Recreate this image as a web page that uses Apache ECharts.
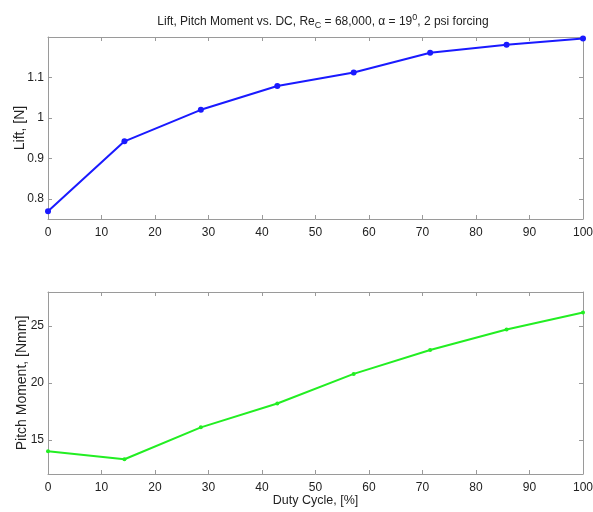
<!DOCTYPE html>
<html>
<head>
<meta charset="utf-8">
<script src="https://cdn.jsdelivr.net/npm/echarts@6/dist/echarts.min.js"></script>
<style>
  html, body { margin: 0; padding: 0; background: #fff; }
  #chart { width: 593px; height: 512px; }
</style>
</head>
<body>
<div id="chart"></div>
<script>
// duty cycle steps (1/7 of 100)
const dutyCycle = [0, 14.29, 28.57, 42.86, 57.14, 71.43, 85.71, 100];
const lift = [0.769, 0.942, 1.020, 1.079, 1.112, 1.161, 1.181, 1.196];
const pitchMoment = [14.0, 13.3, 16.1, 18.2, 20.8, 22.9, 24.7, 26.2];
const liftTicks = [0.8, 0.9, 1, 1.1];
const pitchTicks = [15, 20, 25];

const FONT = 'Liberation Sans';
const axisGray = '#9a9a9a';
const labelColor = '#222';

function xAxes(gridIndex, showName) {
  return [{
    gridIndex, type: 'value', min: 0, max: 100, interval: 10,
    axisLine: { onZero: false, lineStyle: { color: axisGray } },
    axisTick: { inside: true, length: 4, lineStyle: { color: axisGray } },
    axisLabel: { color: labelColor, fontFamily: FONT, fontSize: 12, margin: 8 },
    splitLine: { show: false },
    name: showName ? 'Duty Cycle, [%]' : '',
    nameLocation: 'middle', nameGap: 20, nameMoveOverlap: false,
    nameTextStyle: { color: labelColor, fontFamily: FONT, fontSize: 12.5 }
  }, {
    gridIndex, type: 'value', position: 'top', min: 0, max: 100, interval: 10,
    axisLine: { onZero: false, lineStyle: { color: axisGray } },
    axisTick: { inside: true, length: 4, lineStyle: { color: axisGray } },
    axisLabel: { show: false }, splitLine: { show: false }
  }];
}

function yAxes(gridIndex, min, max, ticks, name, gap) {
  return [{
    gridIndex, type: 'value', min, max,
    axisLine: { show: true, onZero: false, lineStyle: { color: axisGray } },
    axisTick: { show: true, inside: true, length: 4, customValues: ticks, lineStyle: { color: axisGray } },
    axisLabel: { color: labelColor, fontFamily: FONT, fontSize: 12, margin: 4, customValues: ticks },
    splitLine: { show: false },
    name, nameLocation: 'middle', nameGap: gap, nameRotate: 90, nameMoveOverlap: false,
    nameTextStyle: { color: labelColor, fontFamily: FONT, fontSize: 14 }
  }, {
    gridIndex, type: 'value', position: 'right', min, max,
    axisLine: { show: true, onZero: false, lineStyle: { color: axisGray } },
    axisTick: { show: true, inside: true, length: 4, customValues: ticks, lineStyle: { color: axisGray } },
    axisLabel: { show: false }, splitLine: { show: false }
  }];
}

const chart = echarts.init(document.getElementById('chart'), null, { renderer: 'canvas' });
chart.setOption({
  animation: false,
  backgroundColor: '#fff',
  title: {
    text: 'Lift, Pitch Moment vs. DC, Re{sub|C} = 68,000, α = 19{sup|0}, 2 psi forcing',
    left: 318, top: 8, textAlign: 'center',
    textStyle: {
      fontFamily: FONT, fontSize: 12, fontWeight: 'normal', color: labelColor,
      rich: {
        sub: { fontFamily: FONT, fontSize: 9, color: labelColor, padding: [8, 0, 0, 0] },
        sup: { fontFamily: FONT, fontSize: 9, color: labelColor, padding: [0, 0, 7, 0] }
      }
    }
  },
  grid: [
    { left: 48, right: 10, top: 37, height: 182, outerBoundsMode: 'none' },
    { left: 48, right: 10, top: 292, height: 182, outerBoundsMode: 'none' }
  ],
  xAxis: [...xAxes(0, false), ...xAxes(1, true)],
  yAxis: [...yAxes(0, 0.75, 1.2, liftTicks, 'Lift, [N]', 21),
          ...yAxes(1, 12, 28, pitchTicks, 'Pitch Moment, [Nmm]', 19)],
  series: [{
    type: 'line', xAxisIndex: 0, yAxisIndex: 0,
    data: dutyCycle.map((d, i) => [d, lift[i]]),
    symbol: 'circle', symbolSize: 6,
    lineStyle: { color: '#1a1aff', width: 2 },
    itemStyle: { color: '#1a1aff' }
  }, {
    type: 'line', xAxisIndex: 2, yAxisIndex: 2,
    data: dutyCycle.map((d, i) => [d, pitchMoment[i]]),
    symbol: 'circle', symbolSize: 4,
    lineStyle: { color: '#22ee22', width: 2 },
    itemStyle: { color: '#22ee22' }
  }]
});
</script>
</body>
</html>
